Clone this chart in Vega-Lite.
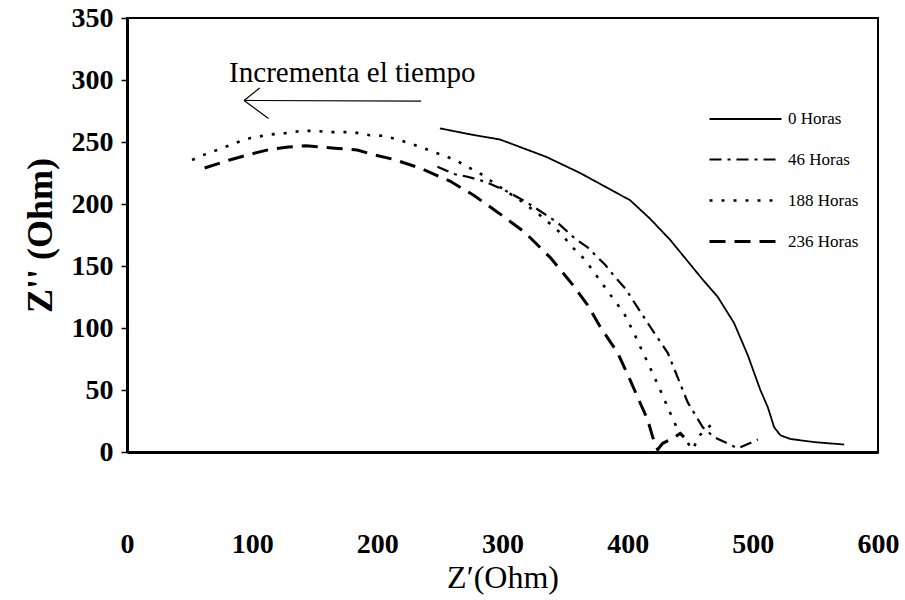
{
  "$schema": "https://vega.github.io/schema/vega-lite/v6.json",
  "width": 751,
  "height": 434,
  "autosize": {"type": "none"},
  "padding": {"left": 127, "top": 18, "right": 27, "bottom": 148},
  "background": "white",
  "config": {
    "font": "Liberation Serif",
    "view": {"stroke": "black", "strokeWidth": 2}
  },
  "datasets": {
    "curves": [
      {"series": "0 Horas", "zr": 250, "zi": 261}, {"series": "0 Horas", "zr": 275, "zi": 256}, {"series": "0 Horas", "zr": 298, "zi": 252}, {"series": "0 Horas", "zr": 306, "zi": 249}, {"series": "0 Horas", "zr": 335, "zi": 238}, {"series": "0 Horas", "zr": 362, "zi": 225}, {"series": "0 Horas", "zr": 402, "zi": 203}, {"series": "0 Horas", "zr": 418, "zi": 188}, {"series": "0 Horas", "zr": 434, "zi": 171}, {"series": "0 Horas", "zr": 460, "zi": 139}, {"series": "0 Horas", "zr": 472, "zi": 125}, {"series": "0 Horas", "zr": 485, "zi": 104}, {"series": "0 Horas", "zr": 496, "zi": 78}, {"series": "0 Horas", "zr": 506, "zi": 50}, {"series": "0 Horas", "zr": 512, "zi": 36}, {"series": "0 Horas", "zr": 517, "zi": 20}, {"series": "0 Horas", "zr": 522, "zi": 13.5}, {"series": "0 Horas", "zr": 530, "zi": 10.5}, {"series": "0 Horas", "zr": 549, "zi": 8}, {"series": "0 Horas", "zr": 573, "zi": 6},
      {"series": "46 Horas", "zr": 248, "zi": 230}, {"series": "46 Horas", "zr": 262, "zi": 224}, {"series": "46 Horas", "zr": 272, "zi": 222}, {"series": "46 Horas", "zr": 286, "zi": 218}, {"series": "46 Horas", "zr": 302, "zi": 211}, {"series": "46 Horas", "zr": 320, "zi": 201}, {"series": "46 Horas", "zr": 344, "zi": 185}, {"series": "46 Horas", "zr": 358, "zi": 172}, {"series": "46 Horas", "zr": 368, "zi": 165}, {"series": "46 Horas", "zr": 382, "zi": 151}, {"series": "46 Horas", "zr": 390, "zi": 141}, {"series": "46 Horas", "zr": 398, "zi": 132}, {"series": "46 Horas", "zr": 418, "zi": 101}, {"series": "46 Horas", "zr": 432, "zi": 80}, {"series": "46 Horas", "zr": 448, "zi": 40}, {"series": "46 Horas", "zr": 460, "zi": 20}, {"series": "46 Horas", "zr": 469, "zi": 12}, {"series": "46 Horas", "zr": 488, "zi": 3}, {"series": "46 Horas", "zr": 504, "zi": 10},
      {"series": "188 Horas", "zr": 52, "zi": 235.5}, {"series": "188 Horas", "zr": 61, "zi": 239.5}, {"series": "188 Horas", "zr": 76, "zi": 245}, {"series": "188 Horas", "zr": 86, "zi": 249}, {"series": "188 Horas", "zr": 98, "zi": 253}, {"series": "188 Horas", "zr": 114, "zi": 256}, {"series": "188 Horas", "zr": 126, "zi": 257}, {"series": "188 Horas", "zr": 139, "zi": 259}, {"series": "188 Horas", "zr": 151, "zi": 259}, {"series": "188 Horas", "zr": 161, "zi": 258}, {"series": "188 Horas", "zr": 180, "zi": 258}, {"series": "188 Horas", "zr": 194, "zi": 255.5}, {"series": "188 Horas", "zr": 205, "zi": 255}, {"series": "188 Horas", "zr": 216, "zi": 252}, {"series": "188 Horas", "zr": 226, "zi": 249}, {"series": "188 Horas", "zr": 237, "zi": 245}, {"series": "188 Horas", "zr": 245, "zi": 242}, {"series": "188 Horas", "zr": 256, "zi": 238}, {"series": "188 Horas", "zr": 265, "zi": 234}, {"series": "188 Horas", "zr": 274, "zi": 229}, {"series": "188 Horas", "zr": 285, "zi": 223}, {"series": "188 Horas", "zr": 293, "zi": 217}, {"series": "188 Horas", "zr": 314, "zi": 203}, {"series": "188 Horas", "zr": 330, "zi": 191}, {"series": "188 Horas", "zr": 346, "zi": 177}, {"series": "188 Horas", "zr": 356, "zi": 165}, {"series": "188 Horas", "zr": 366, "zi": 155}, {"series": "188 Horas", "zr": 376, "zi": 141}, {"series": "188 Horas", "zr": 386, "zi": 127}, {"series": "188 Horas", "zr": 397, "zi": 112}, {"series": "188 Horas", "zr": 405, "zi": 96}, {"series": "188 Horas", "zr": 410, "zi": 85}, {"series": "188 Horas", "zr": 417, "zi": 70}, {"series": "188 Horas", "zr": 426, "zi": 50}, {"series": "188 Horas", "zr": 432, "zi": 36}, {"series": "188 Horas", "zr": 440, "zi": 18}, {"series": "188 Horas", "zr": 452, "zi": 2}, {"series": "188 Horas", "zr": 457, "zi": 13}, {"series": "188 Horas", "zr": 469, "zi": 24},
      {"series": "236 Horas", "zr": 62, "zi": 229}, {"series": "236 Horas", "zr": 82, "zi": 235.5}, {"series": "236 Horas", "zr": 98, "zi": 240}, {"series": "236 Horas", "zr": 114, "zi": 244}, {"series": "236 Horas", "zr": 129, "zi": 246}, {"series": "236 Horas", "zr": 143, "zi": 247}, {"series": "236 Horas", "zr": 166, "zi": 245}, {"series": "236 Horas", "zr": 184, "zi": 243.5}, {"series": "236 Horas", "zr": 198, "zi": 239.5}, {"series": "236 Horas", "zr": 213, "zi": 236}, {"series": "236 Horas", "zr": 234, "zi": 229}, {"series": "236 Horas", "zr": 258, "zi": 218.5}, {"series": "236 Horas", "zr": 277, "zi": 207}, {"series": "236 Horas", "zr": 298, "zi": 192}, {"series": "236 Horas", "zr": 318, "zi": 177}, {"series": "236 Horas", "zr": 338, "zi": 157}, {"series": "236 Horas", "zr": 356, "zi": 135}, {"series": "236 Horas", "zr": 368, "zi": 118.5}, {"series": "236 Horas", "zr": 378, "zi": 101}, {"series": "236 Horas", "zr": 392, "zi": 80}, {"series": "236 Horas", "zr": 402, "zi": 58}, {"series": "236 Horas", "zr": 410, "zi": 39.5}, {"series": "236 Horas", "zr": 416, "zi": 26}, {"series": "236 Horas", "zr": 420, "zi": 12}, {"series": "236 Horas", "zr": 424, "zi": 2}, {"series": "236 Horas", "zr": 428, "zi": 7}, {"series": "236 Horas", "zr": 436, "zi": 11}, {"series": "236 Horas", "zr": 442, "zi": 15}, {"series": "236 Horas", "zr": 445, "zi": 12}
    ],
    "note": [{"label": "Incrementa el tiempo", "zr": 180, "zi": 306}],
    "arrow": [
      {"zr": 235, "zi": 283, "zr2": 93.5, "zi2": 283.5},
      {"zr": 93.5, "zi": 283.5, "zr2": 106, "zi2": 293.5},
      {"zr": 93.5, "zi": 283.5, "zr2": 113, "zi2": 269}
    ]
  },
  "layer": [
    {
      "data": {"name": "curves"},
      "mark": {"type": "line", "color": "black", "strokeCap": "butt"},
      "encoding": {
        "x": {
          "field": "zr", "type": "quantitative",
          "scale": {"domain": [0, 600], "nice": false},
          "axis": {
            "title": "Z′(Ohm)",
            "values": [0, 100, 200, 300, 400, 500, 600],
            "ticks": false,
            "grid": false,
            "domainColor": "black",
            "domainWidth": 3,
            "labelFont": "Liberation Serif",
            "labelFontSize": 28,
            "labelFontWeight": "bold",
            "labelColor": "black",
            "labelPadding": 78,
            "labelFlush": false,
            "titleFont": "Liberation Serif",
            "titleFontSize": 32,
            "titleFontWeight": "normal",
            "titleColor": "black",
            "titlePadding": 4
          }
        },
        "y": {
          "field": "zi", "type": "quantitative",
          "scale": {"domain": [0, 350], "nice": false},
          "axis": {
            "title": "Z'' (Ohm)",
            "values": [0, 50, 100, 150, 200, 250, 300, 350],
            "grid": false,
            "ticks": true,
            "tickSize": 6,
            "tickColor": "black",
            "tickWidth": 1.5,
            "domainColor": "black",
            "domainWidth": 3,
            "labelFont": "Liberation Serif",
            "labelFontSize": 28,
            "labelFontWeight": "bold",
            "labelColor": "black",
            "labelPadding": 8,
            "labelFlush": false,
            "titleFont": "Liberation Serif",
            "titleFontSize": 36,
            "titleFontWeight": "bold",
            "titleColor": "black",
            "titlePadding": 12
          }
        },
        "strokeDash": {
          "field": "series", "type": "nominal",
          "scale": {
            "domain": ["0 Horas", "46 Horas", "188 Horas", "236 Horas"],
            "range": [[1, 0], [12, 6, 3, 6], [3, 9], [16, 9]]
          },
          "legend": {
            "orient": "none",
            "legendX": 607,
            "legendY": 90,
            "title": null,
            "symbolType": "M-3.6,0H3.6",
            "symbolSize": 400,
            "symbolStrokeColor": "black",
            "labelFont": "Liberation Serif",
            "labelFontSize": 17,
            "labelColor": "black",
            "labelOffset": 31,
            "rowPadding": 21
          }
        },
        "strokeWidth": {
          "field": "series", "type": "nominal",
          "scale": {
            "domain": ["0 Horas", "46 Horas", "188 Horas", "236 Horas"],
            "range": [1.8, 3, 3.5, 3.5]
          },
          "legend": null
        }
      }
    },
    {
      "data": {"name": "note"},
      "mark": {"type": "text", "font": "Liberation Serif", "fontSize": 29, "color": "black", "align": "center", "baseline": "middle"},
      "encoding": {
        "x": {"field": "zr", "type": "quantitative"},
        "y": {"field": "zi", "type": "quantitative"},
        "text": {"field": "label"}
      }
    },
    {
      "data": {"name": "arrow"},
      "mark": {"type": "rule", "color": "black", "strokeWidth": 1.2},
      "encoding": {
        "x": {"field": "zr", "type": "quantitative"},
        "y": {"field": "zi", "type": "quantitative"},
        "x2": {"field": "zr2"},
        "y2": {"field": "zi2"}
      }
    }
  ]
}
